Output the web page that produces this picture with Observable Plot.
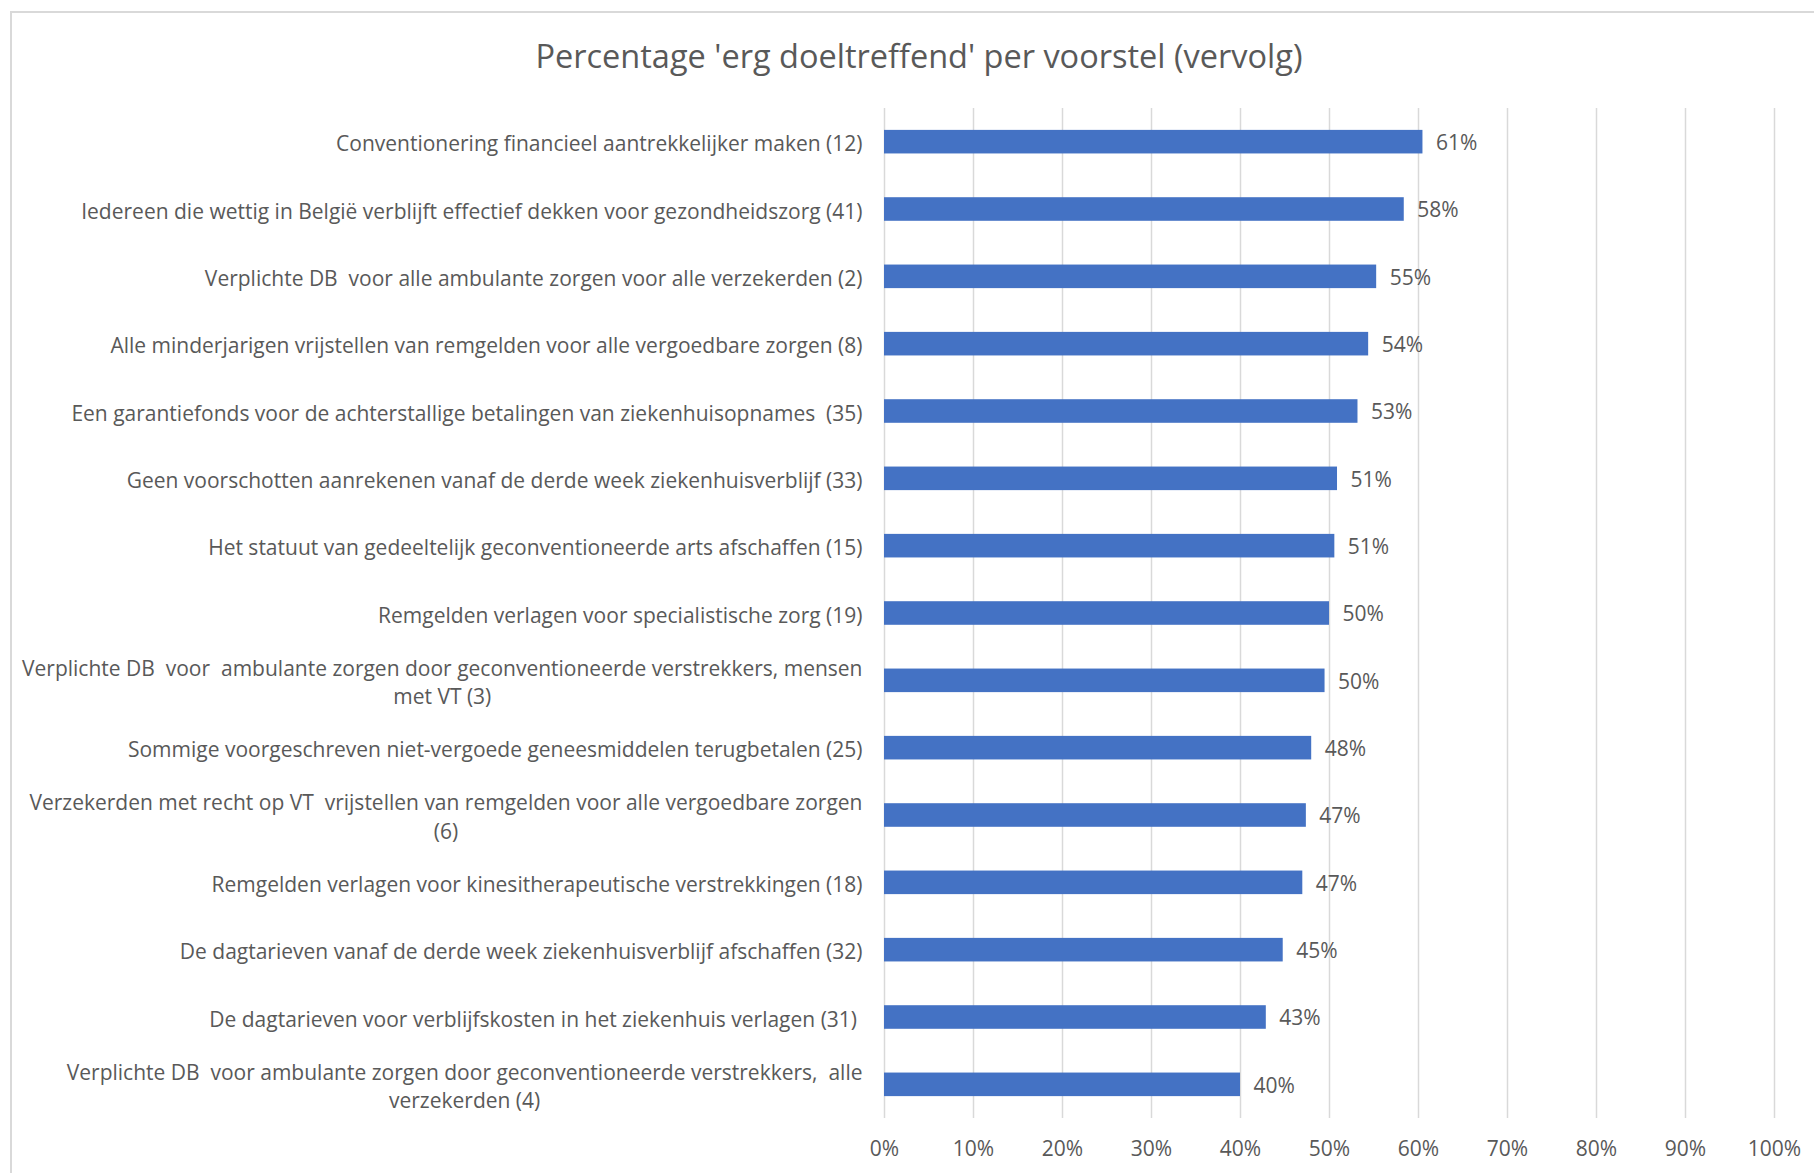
<!DOCTYPE html>
<html>
<head>
<meta charset="utf-8">
<script src="https://cdn.jsdelivr.net/npm/d3@7"></script>
<script src="https://cdn.jsdelivr.net/npm/@observablehq/plot@0.6"></script>
<style>
  html, body { margin: 0; padding: 0; background: #fff; overflow: hidden; }
  #frame { position: absolute; left: 10px; top: 11px; width: 1900px; height: 1300px; border: 2px solid #d9d9d9; box-sizing: border-box; }
  #title { position: absolute; left: 0; width: 1838px; top: 33px; text-align: center; font-family: "Open Sans", sans-serif; font-size: 32.5px; color: #595959; }
  #chart { position: absolute; left: 0; top: 0; }
</style>
</head>
<body>
<div id="frame"></div>
<div id="title">Percentage 'erg doeltreffend' per voorstel (vervolg)</div>
<div id="chart"></div>
<script>
const categories = [
  "Conventionering financieel aantrekkelijker maken (12)",
  "Iedereen die wettig in België verblijft effectief dekken voor gezondheidszorg (41)",
  "Verplichte DB  voor alle ambulante zorgen voor alle verzekerden (2)",
  "Alle minderjarigen vrijstellen van remgelden voor alle vergoedbare zorgen (8)",
  "Een garantiefonds voor de achterstallige betalingen van ziekenhuisopnames  (35)",
  "Geen voorschotten aanrekenen vanaf de derde week ziekenhuisverblijf (33)",
  "Het statuut van gedeeltelijk geconventioneerde arts afschaffen (15)",
  "Remgelden verlagen voor specialistische zorg (19)",
  "Verplichte DB  voor  ambulante zorgen door geconventioneerde verstrekkers, mensen\nmet VT (3)",
  "Sommige voorgeschreven niet-vergoede geneesmiddelen terugbetalen (25)",
  "Verzekerden met recht op VT  vrijstellen van remgelden voor alle vergoedbare zorgen\n(6)",
  "Remgelden verlagen voor kinesitherapeutische verstrekkingen (18)",
  "De dagtarieven vanaf de derde week ziekenhuisverblijf afschaffen (32)",
  "De dagtarieven voor verblijfskosten in het ziekenhuis verlagen (31) ",
  "Verplichte DB  voor ambulante zorgen door geconventioneerde verstrekkers,  alle\nverzekerden (4)"
];
const values = [0.605, 0.584, 0.553, 0.544, 0.532, 0.509, 0.506, 0.500, 0.495, 0.480, 0.474, 0.470, 0.448, 0.429, 0.400];
const valueLabels = ["61%", "58%", "55%", "54%", "53%", "51%", "51%", "50%", "50%", "48%", "47%", "47%", "45%", "43%", "40%"];
const xTicks = [0, 0.1, 0.2, 0.3, 0.4, 0.5, 0.6, 0.7, 0.8, 0.9, 1.0];

const data = categories.map((c, i) => ({category: c, value: values[i], label: valueLabels[i]}));
const fixSpaces = s => s.replace(/  /g, " \u00a0").replace(/ $/g, "\u00a0").replace(/ \n/g, "\u00a0\n");

const textColor = "#595959";
const fontSize = 21;

const chart = Plot.plot({
  width: 1814,
  height: 1173,
  marginTop: 108,
  marginBottom: 55,
  marginLeft: 884,
  marginRight: 40,
  style: {fontFamily: "'Open Sans', sans-serif", fontSize: fontSize + "px", color: textColor, background: "transparent"},
  x: {domain: [0, 1], ticks: xTicks, tickFormat: d => Math.round(d * 100) + "%"},
  y: {domain: categories, paddingInner: 0.65, paddingOuter: 0.325, round: false},
  marks: [
    Plot.gridX(xTicks, {stroke: "#d9d9d9", strokeOpacity: 1, strokeWidth: 1.5}),
    Plot.barX(data, {x: "value", y: "category", fill: "#4472c4"}),
    Plot.text(data, {x: "value", y: "category", text: "label", textAnchor: "start", dx: 13, dy: 1, fill: textColor, fontSize: fontSize}),
    Plot.axisX(xTicks, {tickSize: 0, tickPadding: 23, fontSize: fontSize, fill: textColor, tickFormat: d => Math.round(d * 100) + "%", label: null}),
    Plot.axisY({tickSize: 0, tickPadding: 22, fontSize: fontSize, fill: textColor, lineHeight: 1.35, tickFormat: fixSpaces, label: null})
  ]
});
document.getElementById("chart").appendChild(chart);

// center the lines of wrapped category labels within their right-aligned block
chart.querySelectorAll("text").forEach(t => {
  const spans = t.querySelectorAll("tspan");
  if (spans.length > 1) {
    let w = 0;
    spans.forEach(s => { w = Math.max(w, s.getComputedTextLength()); });
    t.setAttribute("text-anchor", "middle");
    spans.forEach(s => s.setAttribute("x", -w / 2));
  }
});
</script>
</body>
</html>
